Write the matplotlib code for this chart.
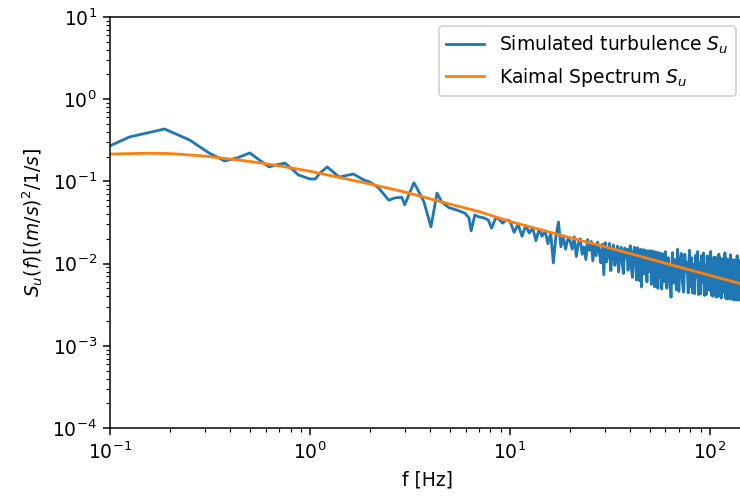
import numpy as np
import matplotlib
matplotlib.use("Agg")
import matplotlib.pyplot as plt

# --------------  Спектр Кайманла -------------- #
f_kaimal = [0.1, 0.15, 0.2, 0.3, 0.5, 0.7, 1.0, 1.5, 2.0, 3.0, 5.0, 7.0,
            10.0, 15.0, 20.0, 30.0, 50.0, 70.0, 100.0, 150.0]
S_kaimal = [0.215, 0.22, 0.218, 0.203, 0.175, 0.155, 0.133, 0.108, 0.093, 0.074,
            0.053, 0.043, 0.0325, 0.0250, 0.0207, 0.0160, 0.0114, 0.0091, 0.0072, 0.0055]

# --------------  Моделирование: низкие частоты -------------- #
f_low = [0.0625, 0.125, 0.1875, 0.25, 0.3125, 0.375, 0.4375, 0.5, 0.5625, 0.625,
         0.6875, 0.75, 0.8125, 0.875, 0.9375, 1.0, 1.0625, 1.125, 1.22, 1.40,
         1.65, 1.86, 2.0, 2.21, 2.48, 2.66, 2.88, 2.98, 3.31, 3.43,
         3.72, 4.03, 4.32, 4.57, 4.95, 5.25, 5.55, 5.96, 6.24, 6.4,
         6.68, 7.0, 7.4, 7.8, 8.1, 8.5, 8.8, 9.2, 9.6]
S_low = [0.16, 0.347, 0.434, 0.319, 0.222, 0.177, 0.195, 0.222, 0.18, 0.150,
         0.16, 0.167, 0.142, 0.120, 0.113, 0.107, 0.107, 0.127, 0.150, 0.113,
         0.123, 0.104, 0.098, 0.083, 0.059, 0.063, 0.064, 0.052, 0.096, 0.083,
         0.056, 0.028, 0.072, 0.056, 0.048, 0.046, 0.044, 0.041, 0.036, 0.025,
         0.039, 0.037, 0.036, 0.034, 0.027, 0.036, 0.035, 0.031, 0.034]

# --------------  Моделирование: высокие частоты -------------- #
f_mid = np.arange(10.0, 60.0, 0.5)
S_mid = [0.0330, 0.0240, 0.0300, 0.0215, 0.0290, 0.0235, 0.0275, 0.0190, 0.0262, 0.0215,
         0.0250, 0.0175, 0.0235, 0.0102, 0.0215, 0.0320, 0.0160, 0.0210, 0.0150, 0.0200,
         0.0190, 0.0150, 0.0212, 0.0122, 0.0175, 0.0200, 0.0130, 0.0160, 0.0112, 0.0196,
         0.0145, 0.0186, 0.0108, 0.0170, 0.0125, 0.0182, 0.0140, 0.0102, 0.0172, 0.0073,
         0.0180, 0.0105, 0.0135, 0.0176, 0.0082, 0.0150, 0.0168, 0.0095, 0.0120, 0.0163,
         0.0079, 0.0140, 0.0158, 0.0100, 0.0076, 0.0155, 0.0118, 0.0150, 0.0083, 0.0128,
         0.0165, 0.0090, 0.0068, 0.0140, 0.0158, 0.0105, 0.0063, 0.0156, 0.0120, 0.0062,
         0.0150, 0.0052, 0.0110, 0.0148, 0.0075, 0.0146, 0.0098, 0.0060, 0.0143, 0.0115,
         0.0080, 0.0144, 0.0056, 0.0125, 0.0142, 0.0070, 0.0052, 0.0139, 0.0095, 0.0137,
         0.0050, 0.0118, 0.0135, 0.0068, 0.0133, 0.0049, 0.0100, 0.0131, 0.0060, 0.0126]

f_high = np.arange(60.0, 149.0, 1.0)
S_high = [0.0140, 0.0050, 0.0118, 0.0072, 0.0039, 0.0136, 0.0058, 0.0112, 0.0048, 0.0150,
          0.0046, 0.0105, 0.0133, 0.0058, 0.0045, 0.0130, 0.0080, 0.0104, 0.0044, 0.0145,
          0.0052, 0.0118, 0.0044, 0.0098, 0.0043, 0.0127, 0.0068, 0.0140, 0.0042, 0.0102,
          0.0043, 0.0125, 0.0060, 0.0135, 0.0041, 0.0096, 0.0042, 0.0124, 0.0075, 0.0122,
          0.0047, 0.0140, 0.0041, 0.0100, 0.0040, 0.0120, 0.0062, 0.0119, 0.0039, 0.0094,
          0.0040, 0.0130, 0.0045, 0.0117, 0.0038, 0.0098, 0.0058, 0.0116, 0.0044, 0.0135,
          0.0038, 0.0115, 0.0037, 0.0092, 0.0060, 0.0113, 0.0037, 0.0128, 0.0042, 0.0112,
          0.0037, 0.0090, 0.0036, 0.0111, 0.0055, 0.0110, 0.0036, 0.0125, 0.0041, 0.0088,
          0.0036, 0.0109, 0.0050, 0.0108, 0.0035, 0.0120, 0.0035, 0.0107, 0.0036]

f_sim = np.concatenate([f_low, f_mid, f_high])
S_sim = np.concatenate([S_low, S_mid, S_high])

dpi = 135
fig = plt.figure(figsize=(740 / dpi, 504 / dpi), dpi=dpi)
ax = fig.add_axes([110 / 740, 76 / 504, 635 / 740, 411 / 504])
ax.loglog(f_sim, S_sim, color='C0', label='Simulated turbulence $S_u$')
ax.loglog(f_kaimal, S_kaimal, color='C1', label='Kaimal Spectrum $S_u$')
ax.set_xlim(0.1, 150)
ax.set_ylim(1e-4, 1e1)
ax.set_xlabel('f [Hz]')
ax.set_ylabel('$S_u(f) [(m/s)^2/1/s]$')
ax.legend(loc='upper right')

plt.savefig('out.png', dpi=dpi)
